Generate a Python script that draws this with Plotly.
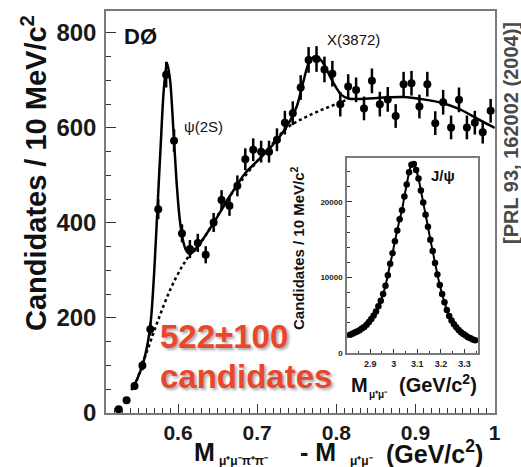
import plotly.graph_objects as go

# ---- main spectrum: M(mu mu pi pi) - M(mu mu), 10 MeV bins ----
dm_centers = [0.525, 0.535, 0.545, 0.555, 0.565, 0.575, 0.585, 0.595, 0.605, 0.615,
              0.625, 0.635, 0.645, 0.655, 0.665, 0.675, 0.685, 0.695, 0.705, 0.715,
              0.725, 0.735, 0.745, 0.755, 0.765, 0.775, 0.785, 0.795, 0.805, 0.815,
              0.825, 0.835, 0.845, 0.855, 0.865, 0.875, 0.885, 0.895, 0.905, 0.915,
              0.925, 0.935, 0.945, 0.955, 0.965, 0.975, 0.985, 0.995]
candidates = [8, 27, 57, 100, 176, 429, 712, 573, 378, 345,
              358, 333, 401, 448, 436, 478, 534, 554, 550, 550,
              575, 611, 631, 685, 743, 745, 723, 714, 650, 687,
              680, 641, 699, 650, 660, 625, 692, 694, 645, 692,
              610, 654, 601, 659, 601, 611, 591, 636]
cand_err = [3, 5, 8, 10, 13, 21, 27, 24, 19, 19,
            19, 18, 20, 21, 21, 22, 23, 24, 23, 23,
            24, 25, 25, 26, 27, 27, 27, 27, 26, 26,
            26, 25, 26, 26, 26, 25, 26, 26, 25, 26,
            25, 26, 25, 26, 25, 25, 24, 25]

# fitted signal + background curve
fit_x = [0.541, 0.548, 0.555, 0.562, 0.566, 0.570, 0.574, 0.578, 0.582, 0.586,
         0.590, 0.594, 0.598, 0.602, 0.606, 0.610, 0.615, 0.620, 0.630, 0.645,
         0.665, 0.685, 0.700, 0.715, 0.730, 0.740, 0.750, 0.758, 0.766, 0.774,
         0.782, 0.790, 0.798, 0.806, 0.815, 0.830, 0.860, 0.885, 0.910, 0.935,
         0.955, 0.970, 0.985, 1.000]
fit_y = [48, 70, 100, 150, 200, 300, 430, 560, 680, 737,
         700, 600, 490, 410, 365, 343, 335, 340, 362, 400,
         455, 505, 530, 555, 585, 610, 645, 695, 740, 751,
         740, 715, 690, 670, 662, 661, 664, 665, 660, 652,
         640, 627, 613, 600]

# background component of the fit
bkg_x = [0.545, 0.560, 0.575, 0.590, 0.605, 0.615, 0.630, 0.665, 0.700, 0.720,
         0.735, 0.750, 0.763, 0.780, 0.792, 0.807, 0.815]
bkg_y = [55, 126, 196, 259, 308, 333, 362, 455, 530, 568,
         596, 613, 624, 637, 645, 655, 660]

# ---- inset: M(mu mu) around the J/psi ----
jpsi_mass = [2.815, 2.825, 2.835, 2.845, 2.855, 2.865, 2.875, 2.885, 2.895, 2.905,
             2.915, 2.925, 2.935, 2.945, 2.955, 2.965, 2.975, 2.985, 2.995, 3.005,
             3.015, 3.025, 3.035, 3.045, 3.055, 3.065, 3.075, 3.085, 3.095, 3.105,
             3.115, 3.125, 3.135, 3.145, 3.155, 3.165, 3.175, 3.185, 3.195, 3.205,
             3.215, 3.225, 3.235, 3.245, 3.255, 3.265, 3.275, 3.285, 3.295, 3.305,
             3.315, 3.325, 3.335, 3.345]
jpsi_counts = [2400, 2550, 2700, 2850, 3000, 3250, 3450, 3750, 4100, 4500,
               4950, 5500, 6200, 6900, 7800, 8900, 10300, 11800, 13200, 14800,
               16200, 17700, 18900, 20700, 22300, 23900, 24900, 25000, 24200, 23100,
               21500, 19900, 18300, 16700, 15000, 13500, 11900, 10400, 9000, 7800,
               6700, 5700, 4900, 4300, 3800, 3400, 3050, 2750, 2500, 2300,
               2100, 1950, 1800, 1700]

main_ticks = [0.6, 0.7, 0.8, 0.9, 1.0]
main_tick_text = ["0.6", "0.7", "0.8", "0.9", "1"]
count_ticks = [0, 200, 400, 600, 800]
inset_xticks = [2.9, 3.0, 3.1, 3.2, 3.3]
inset_xtick_text = ["2.9", "3", "3.1", "3.2", "3.3"]
inset_yticks = [0, 10000, 20000]
inset_ytick_text = ["0", "10000", "20000"]

W, H = 521, 467
FONT = "Liberation Sans, Arial, Helvetica, sans-serif"
RED = "#E8472D"
FRAME = "#7a7a7a"


def fx(x):
    return x / W


def fy(y):
    return 1 - y / H


fig = go.Figure()

fig.add_trace(go.Scatter(x=bkg_x, y=bkg_y, mode="lines",
                         line=dict(color="black", width=2.5, dash="dot", shape="spline"),
                         hoverinfo="skip", showlegend=False))
fig.add_trace(go.Scatter(x=fit_x, y=fit_y, mode="lines",
                         line=dict(color="black", width=2.5, shape="spline", smoothing=0.8),
                         hoverinfo="skip", showlegend=False))
fig.add_trace(go.Scatter(x=dm_centers, y=candidates, mode="markers",
                         marker=dict(color="black", size=8),
                         error_y=dict(type="data", array=cand_err, color="black",
                                      thickness=2.5, width=0),
                         cliponaxis=False, showlegend=False))

fig.add_trace(go.Scatter(x=jpsi_mass, y=jpsi_counts, mode="lines+markers",
                         line=dict(color="black", width=2, shape="spline"),
                         marker=dict(color="black", size=6.5),
                         xaxis="x2", yaxis="y2", cliponaxis=False, showlegend=False))

axis_common = dict(showgrid=False, zeroline=False, showline=True, linecolor=FRAME,
                   linewidth=1.5, mirror=True, ticks="inside", tickcolor="#333",
                   automargin=False)

fig.update_layout(
    template="none",
    width=W, height=H,
    margin=dict(l=0, r=0, t=0, b=0, pad=0),
    paper_bgcolor="white", plot_bgcolor="white",
    showlegend=False,
    xaxis=dict(domain=[fx(106), fx(495)], range=[0.509, 1.0005],
               tickvals=main_ticks, ticktext=main_tick_text, ticklen=9, tickwidth=1.2,
               minor=dict(dtick=0.01, ticks="inside", ticklen=5, tickcolor="#333", tick0=0.5),
               tickfont=dict(family=FONT, size=21, color="#1a1a1a", weight="bold"),
               ticklabelstandoff=0, **axis_common),
    yaxis=dict(domain=[fy(413), fy(11)], range=[0, 846],
               tickvals=count_ticks, ticklen=10, tickwidth=1.2,
               minor=dict(dtick=50, ticks="inside", ticklen=5, tickcolor="#333"),
               tickfont=dict(family=FONT, size=24, color="#1a1a1a", weight="bold"),
               ticklabelstandoff=3, **axis_common),
    xaxis2=dict(domain=[fx(347), fx(478)], range=[2.802, 3.357], anchor="y2",
                tickvals=inset_xticks, ticktext=inset_xtick_text, ticklen=4,
                minor=dict(dtick=0.05, ticks="inside", ticklen=2, tickcolor="#333"),
                tickfont=dict(family=FONT, size=9, color="#222", weight="bold"),
                ticklabelstandoff=1, **axis_common),
    yaxis2=dict(domain=[fy(353), fy(158)], range=[0, 25800], anchor="x2",
                tickvals=inset_yticks, ticktext=inset_ytick_text, ticklen=5,
                minor=dict(dtick=2000, ticks="inside", ticklen=3, tickcolor="#333"),
                tickfont=dict(family=FONT, size=8, color="#222", weight="bold"),
                ticklabelstandoff=1, **axis_common),
)


def label(text, x, y, size, xanchor="center", yanchor="middle", angle=0,
          color="#111", weight="bold", shadow=None):
    font = dict(family=FONT, size=size, color=color, weight=weight)
    if shadow:
        font["shadow"] = shadow
    fig.add_annotation(text=text, x=fx(x), y=fy(y), xref="paper", yref="paper",
                       xanchor=xanchor, yanchor=yanchor, textangle=angle,
                       showarrow=False, font=font)


label("DØ", 122, 36, 22, xanchor="left")
label("ψ(2S)", 182, 126, 15, xanchor="left", weight="normal")
label("X(3872)", 325, 40, 15, xanchor="left", weight="normal")
label("J/ψ", 443, 176, 15)

label("522±100", 158, 336, 33, xanchor="left", color=RED,
      shadow="2px 2px 3px rgba(0,0,0,0.35)")
label("candidates", 158, 376, 33, xanchor="left", color=RED,
      shadow="2px 2px 3px rgba(0,0,0,0.35)")

# main x-axis title, built from pieces
label("M", 192, 452, 25, xanchor="left")
label("μ⁺μ⁻π⁺π⁻", 217, 461, 12, xanchor="left")
label("- M", 298, 452, 25, xanchor="left")
label("μ⁺μ⁻", 348, 461, 12, xanchor="left")
label("(GeV/c<sup>2</sup>)", 384, 452, 25, xanchor="left")

label("Candidates / 10 MeV/c<sup>2</sup>", 34, 173, 29, angle=-90)

# inset x-axis title
label("M", 349, 385, 20, xanchor="left")
label("μ⁺μ⁻", 367, 394, 10, xanchor="left")
label("(GeV/c<sup>2</sup>)", 397, 383, 20, xanchor="left")
label("Candidates / 10 MeV/c<sup>2</sup>", 297, 248, 15, angle=-90)

label("[PRL 93, 162002 (2004)]", 511, 133, 20, angle=-90, color="#4a4a4a")

fig.write_html("out.html")
